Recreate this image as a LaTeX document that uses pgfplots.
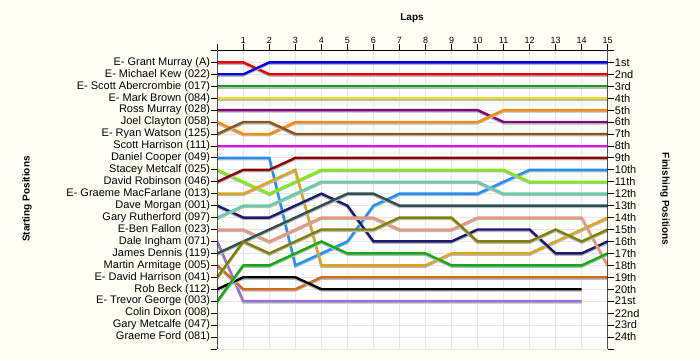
\documentclass[border=0pt]{standalone}
\usepackage{pgfplots}
\pgfplotsset{compat=1.18}
\usepackage{fontspec}
\setmainfont{Liberation Sans}
\definecolor{bgcream}{RGB}{255,255,246}
\definecolor{cRed}{RGB}{235,0,0}
\definecolor{cBlue}{RGB}{0,0,230}
\definecolor{cGreen}{RGB}{20,160,20}
\definecolor{cYellow}{RGB}{245,225,0}
\definecolor{cPurple}{RGB}{128,0,128}
\definecolor{cOrange}{RGB}{255,140,0}
\definecolor{cBrown}{RGB}{140,85,25}
\definecolor{cMagenta}{RGB}{255,0,255}
\definecolor{cMaroon}{RGB}{139,0,0}
\definecolor{cDodger}{RGB}{30,144,255}
\definecolor{cLawn}{RGB}{124,240,0}
\definecolor{cGold}{RGB}{218,165,32}
\definecolor{cNavy}{RGB}{25,25,112}
\definecolor{cAqua}{RGB}{102,205,170}
\definecolor{cSalmon}{RGB}{233,150,122}
\definecolor{cLavender}{RGB}{147,112,219}
\definecolor{cSlate}{RGB}{47,79,79}
\definecolor{cChoc}{RGB}{210,105,30}
\definecolor{cOlive}{RGB}{128,128,0}
\definecolor{cGreenB}{RGB}{20,170,20}
\newcommand{\lapline}[2]{%
  \addplot[draw=gray!55, line width=2.4pt, yshift=-1.3pt, forget plot] coordinates {#2};
  \addplot[draw=#1, line width=2.4pt] coordinates {#2};}
\begin{document}
\begin{tikzpicture}[x=1pt,y=1pt]
\fill[bgcream] (0,0) rectangle (700,360);
\begin{axis}[at={(217.3pt,11.1pt)}, anchor=south west, scale only axis,
  width=390.4pt, height=298.5pt,
  xmin=0, xmax=15, ymin=0, ymax=25, y dir=reverse,
  axis background/.style={fill=white},
  axis line style={draw=none},
  xtick={0,...,15}, ytick={0,...,25},
  xticklabels={{},1,2,3,4,5,6,7,8,9,10,11,12,13,14,15},
  xtick pos=upper, xticklabel pos=upper,
  ytick pos=left, yticklabel pos=left,
  tick align=outside, major tick length=6pt,
  tick style={black, line width=0.8pt},
  grid=major, major grid style={gray!18, line width=0.8pt},
  xticklabel style={font=\fontsize{9}{10}\selectfont, inner sep=1pt},
  yticklabel style={font=\fontsize{11}{12}\selectfont, inner sep=1pt},
  /pgf/number format/assume math mode=true,
  yticklabels={{}, E- Grant Murray (A), E- Michael Kew (022), E- Scott Abercrombie (017), E- Mark Brown (084), Ross Murray (028), Joel Clayton (058), E- Ryan Watson (125), Scott Harrison (111), Daniel Cooper (049), Stacey Metcalf (025), David Robinson (046), E- Graeme MacFarlane (013), Dave Morgan (001), Gary Rutherford (097), E-Ben Fallon (023), Dale Ingham (071), James Dennis (119), Martin Armitage (005), E- David Harrison (041), Rob Beck (112), E- Trevor George (003), Colin Dixon (008), Gary Metcalfe (047), Graeme Ford (081), {}},
  clip=true,
]
\lapline{cRed}{(0,1)(1,1)(2,2)(3,2)(4,2)(5,2)(6,2)(7,2)(8,2)(9,2)(10,2)(11,2)(12,2)(13,2)(14,2)(15,2)}
\lapline{cBlue}{(0,2)(1,2)(2,1)(3,1)(4,1)(5,1)(6,1)(7,1)(8,1)(9,1)(10,1)(11,1)(12,1)(13,1)(14,1)(15,1)}
\lapline{cGreen}{(0,3)(15,3)}
\lapline{cYellow}{(0,4)(15,4)}
\lapline{cPurple}{(0,5)(1,5)(2,5)(3,5)(4,5)(5,5)(6,5)(7,5)(8,5)(9,5)(10,5)(11,6)(12,6)(13,6)(14,6)(15,6)}
\lapline{cOrange}{(0,6)(1,7)(2,7)(3,6)(4,6)(5,6)(6,6)(7,6)(8,6)(9,6)(10,6)(11,5)(12,5)(13,5)(14,5)(15,5)}
\lapline{cBrown}{(0,7)(1,6)(2,6)(3,7)(4,7)(5,7)(6,7)(7,7)(8,7)(9,7)(10,7)(11,7)(12,7)(13,7)(14,7)(15,7)}
\lapline{cMagenta}{(0,8)(15,8)}
\lapline{cDodger}{(0,9)(1,9)(2,9)(3,18)(4,17)(5,16)(6,13)(7,12)(8,12)(9,12)(10,12)(11,11)(12,10)(13,10)(14,10)(15,10)}
\lapline{cLawn}{(0,10)(1,11)(2,12)(3,11)(4,10)(5,10)(6,10)(7,10)(8,10)(9,10)(10,10)(11,10)(12,11)(13,11)(14,11)(15,11)}
\lapline{cMaroon}{(0,11)(1,10)(2,10)(3,9)(4,9)(5,9)(6,9)(7,9)(8,9)(9,9)(10,9)(11,9)(12,9)(13,9)(14,9)(15,9)}
\lapline{cGold}{(0,12)(1,12)(2,11)(3,10)(4,18)(5,18)(6,18)(7,18)(8,18)(9,17)(10,17)(11,17)(12,17)(13,16)(14,15)(15,14)}
\lapline{cNavy}{(0,13)(1,14)(2,14)(3,13)(4,12)(5,13)(6,16)(7,16)(8,16)(9,16)(10,15)(11,15)(12,15)(13,17)(14,17)(15,16)}
\lapline{cAqua}{(0,14)(1,13)(2,13)(3,12)(4,11)(5,11)(6,11)(7,11)(8,11)(9,11)(10,11)(11,12)(12,12)(13,12)(14,12)(15,12)}
\lapline{cSalmon}{(0,15)(1,15)(2,16)(3,15)(4,14)(5,14)(6,14)(7,15)(8,15)(9,15)(10,14)(11,14)(12,14)(13,14)(14,14)(15,18)}
\lapline{cLavender}{(0,16)(1,21)(2,21)(3,21)(4,21)(5,21)(6,21)(7,21)(8,21)(9,21)(10,21)(11,21)(12,21)(13,21)(14,21)}
\lapline{cSlate}{(0,17)(1,16)(2,15)(3,14)(4,13)(5,12)(6,12)(7,13)(8,13)(9,13)(10,13)(11,13)(12,13)(13,13)(14,13)(15,13)}
\lapline{cChoc}{(0,18)(1,20)(2,20)(3,20)(4,19)(5,19)(6,19)(7,19)(8,19)(9,19)(10,19)(11,19)(12,19)(13,19)(14,19)(15,19)}
\lapline{cOlive}{(0,19)(1,16)(2,17)(3,16)(4,15)(5,15)(6,15)(7,14)(8,14)(9,14)(10,16)(11,16)(12,16)(13,15)(14,16)(15,15)}
\lapline{black}{(0,20)(1,19)(2,19)(3,19)(4,20)(5,20)(6,20)(7,20)(8,20)(9,20)(10,20)(11,20)(12,20)(13,20)(14,20)}
\lapline{cGreenB}{(0,21)(1,18)(2,18)(3,17)(4,16)(5,17)(6,17)(7,17)(8,17)(9,18)(10,18)(11,18)(12,18)(13,18)(14,18)(15,17)}
\draw[black, line width=0.9pt] (axis cs:0,25) -- (axis cs:0,0) -- (axis cs:15,0) -- (axis cs:15,25);
\end{axis}
\begin{axis}[at={(217.3pt,11.1pt)}, anchor=south west, scale only axis,
  width=390.4pt, height=298.5pt,
  xmin=0, xmax=15, ymin=0, ymax=25, y dir=reverse,
  axis line style={draw=none},
  xtick=\empty, ytick={0,...,25},
  ytick pos=right, yticklabel pos=right,
  tick align=outside, major tick length=6pt,
  tick style={black, line width=0.8pt},
  yticklabel style={font=\fontsize{11}{12}\selectfont, inner sep=1pt},
  yticklabels={{},1st,2nd,3rd,4th,5th,6th,7th,8th,9th,10th,11th,12th,13th,14th,15th,16th,17th,18th,19th,20th,21st,22nd,23rd,24th,{}},
]
\end{axis}
\node[font=\bfseries\fontsize{10}{12}\selectfont] at (412,342) {Laps};
\node[rotate=90, font=\bfseries\fontsize{10}{12}\selectfont] at (27,161) {Starting Positions};
\node[rotate=-90, font=\bfseries\fontsize{10}{12}\selectfont] at (665,161) {Finishing Positions};
\pgfresetboundingbox
\path[use as bounding box] (0,0) rectangle (700,360);
\end{tikzpicture}
\end{document}
